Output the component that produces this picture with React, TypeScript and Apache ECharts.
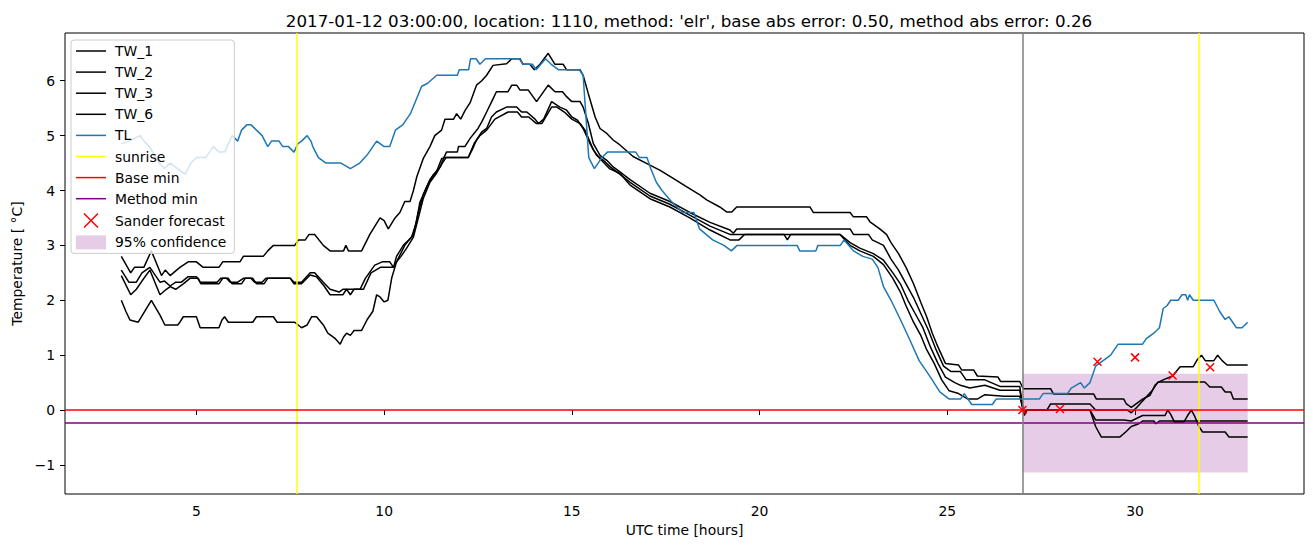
import React, { useEffect, useRef } from 'react';
import * as echarts from 'echarts';

const TITLE = "2017-01-12 03:00:00, location: 1110, method: 'elr', base abs error: 0.50, method abs error: 0.26";

const TW_1: [number, number][] = [
  [3.0,2.8],[3.25,2.5],[3.35,2.6],[3.6,2.6],[3.8,2.9],[4.07,2.45],[4.17,2.55],[4.3,2.45],[4.56,2.6],[4.78,2.7],[5.0,2.7],[5.18,2.6],[5.6,2.6],[5.7,2.7],[6.16,2.7],[6.25,2.8],[6.78,2.8],[6.9,2.9],[7.05,3.0],[7.62,3.0],[7.72,3.1],[7.9,3.1],[8.0,3.2],[8.15,3.2],[8.38,3.0],[8.56,2.9],[8.92,2.9],[8.98,3.0],[9.05,2.9],[9.4,2.9],[9.62,3.2],[9.89,3.5],[10.0,3.45],[10.11,3.3],[10.29,3.5],[10.42,3.6],[10.55,3.8],[10.69,3.8],[10.78,4.0],[10.87,4.25],[11.04,4.58],[11.22,4.8],[11.35,5.0],[11.53,5.1],[11.62,5.3],[11.85,5.3],[11.93,5.4],[12.04,5.3],[12.15,5.45],[12.29,5.6],[12.46,5.92],[12.6,6.0],[12.73,6.1],[12.9,6.28],[13.26,6.31],[13.4,6.4],[13.62,6.4],[13.7,6.3],[13.88,6.3],[14.0,6.2],[14.15,6.3],[14.37,6.5],[14.55,6.3],[14.77,6.3],[14.86,6.2],[15.22,6.2],[15.3,6.1],[15.44,5.76],[15.62,5.34],[15.75,5.13],[15.93,5.04],[16.1,4.92],[16.28,4.83],[16.63,4.62],[17.0,4.49],[17.34,4.37],[17.7,4.22],[18.05,4.07],[18.41,3.92],[18.59,3.83],[18.94,3.7],[19.12,3.61],[19.26,3.61],[19.39,3.7],[21.34,3.7],[21.43,3.6],[22.41,3.6],[22.5,3.52],[22.85,3.52],[22.94,3.43],[23.2,3.3],[23.38,3.2],[23.5,3.05],[23.7,2.85],[23.9,2.6],[24.1,2.3],[24.3,1.95],[24.45,1.7],[24.6,1.4],[24.75,1.15],[24.95,0.85],[25.3,0.82],[25.38,0.73],[25.7,0.73],[25.8,0.62],[26.35,0.6],[26.42,0.52],[26.93,0.52],[27.02,0.39],[27.75,0.39],[27.83,0.29],[28.9,0.29],[28.97,0.2],[29.7,0.2],[29.77,0.11],[29.9,0.05],[30.0,0.1],[30.2,0.2],[30.4,0.27],[30.53,0.45],[30.62,0.51],[31.86,0.51],[31.99,0.42],[32.3,0.42],[32.4,0.33],[32.55,0.33],[32.62,0.2],[33.0,0.2]
];

const TW_2: [number, number][] = [
  [3.0,2.55],[3.2,2.33],[3.4,2.33],[3.55,2.5],[3.76,2.6],[4.03,2.33],[4.15,2.35],[4.3,2.26],[4.45,2.33],[4.6,2.33],[4.78,2.43],[5.0,2.43],[5.1,2.33],[5.55,2.33],[5.65,2.4],[5.8,2.4],[5.9,2.33],[6.1,2.33],[6.25,2.4],[6.45,2.4],[6.55,2.33],[6.75,2.33],[6.85,2.4],[7.5,2.4],[7.6,2.33],[7.8,2.33],[8.03,2.5],[8.15,2.5],[8.38,2.33],[8.56,2.2],[8.8,2.15],[8.9,2.2],[9.36,2.2],[9.5,2.4],[9.75,2.64],[9.95,2.7],[10.15,2.7],[10.25,2.6],[10.33,2.8],[10.51,3.0],[10.73,3.15],[10.85,3.4],[10.95,3.78],[11.13,4.06],[11.3,4.28],[11.49,4.43],[11.58,4.58],[11.66,4.7],[11.95,4.7],[11.98,4.8],[12.15,4.8],[12.29,4.95],[12.5,5.13],[12.6,5.25],[12.73,5.43],[12.9,5.67],[12.99,5.8],[13.3,5.8],[13.4,5.92],[13.53,5.92],[13.62,5.83],[13.84,5.83],[14.06,5.62],[14.37,5.92],[14.55,5.8],[14.75,5.8],[14.86,5.71],[15.0,5.62],[15.22,5.62],[15.3,5.52],[15.44,5.22],[15.57,4.86],[15.75,4.64],[15.93,4.55],[16.1,4.43],[16.28,4.34],[16.55,4.2],[17.08,3.95],[17.61,3.8],[18.14,3.6],[18.68,3.42],[19.21,3.28],[19.3,3.22],[19.39,3.3],[22.41,3.3],[22.5,3.2],[22.9,3.2],[23.0,3.1],[23.3,3.0],[23.5,2.75],[23.7,2.55],[23.9,2.3],[24.1,2.05],[24.3,1.75],[24.5,1.45],[24.7,1.1],[24.9,0.8],[25.1,0.7],[25.35,0.7],[25.5,0.55],[26.0,0.55],[26.4,0.43],[26.93,0.43],[27.03,-0.05],[27.1,0.0],[27.65,0.0],[27.75,0.11],[28.8,0.11],[28.95,0.0],[29.8,0.0],[29.9,-0.05],[30.05,0.05],[30.25,0.2],[30.45,0.35],[30.6,0.5],[30.75,0.55],[31.0,0.62],[31.2,0.79],[31.55,0.79],[31.65,0.91],[31.77,1.0],[31.87,0.9],[32.1,0.9],[32.2,1.0],[32.32,0.9],[32.45,0.82],[33.0,0.82]
];

const TW_3: [number, number][] = [
  [3.0,2.45],[3.25,2.1],[3.4,2.2],[3.55,2.35],[3.76,2.55],[4.03,2.1],[4.2,2.2],[4.3,2.25],[4.45,2.2],[4.65,2.3],[4.83,2.4],[5.05,2.4],[5.12,2.3],[5.6,2.3],[5.7,2.4],[5.85,2.4],[5.95,2.3],[6.2,2.3],[6.3,2.4],[6.5,2.4],[6.6,2.3],[6.8,2.3],[6.9,2.4],[7.5,2.4],[7.6,2.3],[7.8,2.3],[8.03,2.46],[8.2,2.43],[8.4,2.26],[8.56,2.1],[8.9,2.1],[9.0,2.2],[9.1,2.1],[9.2,2.2],[9.45,2.2],[9.65,2.5],[9.9,2.6],[10.25,2.6],[10.33,2.7],[10.55,3.0],[10.78,3.2],[10.91,3.6],[11.04,3.92],[11.22,4.2],[11.4,4.35],[11.53,4.58],[11.6,4.6],[12.24,4.6],[12.35,4.75],[12.46,4.92],[12.6,5.07],[12.73,5.13],[12.86,5.34],[12.99,5.43],[13.26,5.52],[13.53,5.52],[13.66,5.43],[13.8,5.43],[14.02,5.3],[14.11,5.22],[14.25,5.3],[14.46,5.62],[14.68,5.52],[14.85,5.47],[15.0,5.34],[15.15,5.28],[15.3,5.13],[15.48,4.86],[15.66,4.64],[15.84,4.55],[16.02,4.43],[16.2,4.34],[16.55,4.15],[17.08,3.9],[17.61,3.75],[18.14,3.55],[18.68,3.35],[19.21,3.2],[22.14,3.2],[22.41,3.05],[22.67,2.95],[23.03,2.85],[23.3,2.73],[23.55,2.5],[23.75,2.3],[23.95,2.0],[24.15,1.75],[24.35,1.5],[24.55,1.15],[24.75,0.85],[24.95,0.6],[25.2,0.5],[25.35,0.45],[25.6,0.4],[26.0,0.45],[26.4,0.36],[26.93,0.36],[27.05,-0.08],[27.12,0.0],[28.8,0.0],[28.95,-0.18],[29.7,-0.18],[29.9,-0.2],[30.2,-0.1],[30.8,-0.1],[30.87,0.0],[30.95,-0.08],[31.05,-0.22],[31.3,-0.22],[31.4,-0.1],[31.5,0.0],[31.58,-0.1],[31.7,-0.3],[31.8,-0.4],[32.4,-0.4],[32.5,-0.49],[33.0,-0.49]
];

const TW_6: [number, number][] = [
  [3.0,2.0],[3.12,1.8],[3.23,1.64],[3.45,1.6],[3.8,2.0],[4.03,1.73],[4.16,1.55],[4.5,1.55],[4.56,1.6],[4.65,1.7],[5.0,1.7],[5.1,1.5],[5.6,1.5],[5.68,1.64],[5.75,1.7],[5.85,1.6],[6.5,1.6],[6.6,1.7],[7.05,1.7],[7.15,1.6],[7.62,1.6],[7.8,1.5],[7.95,1.55],[8.07,1.7],[8.2,1.7],[8.38,1.55],[8.5,1.4],[8.7,1.3],[8.83,1.2],[8.92,1.33],[9.0,1.4],[9.1,1.36],[9.2,1.45],[9.4,1.45],[9.55,1.65],[9.7,1.8],[9.8,2.1],[9.89,2.06],[10.0,1.97],[10.1,2.0],[10.2,2.4],[10.33,2.7],[10.45,2.8],[10.6,2.95],[10.78,3.15],[10.91,3.5],[11.04,3.85],[11.22,4.15],[11.4,4.32],[11.55,4.5],[11.65,4.6],[12.24,4.6],[12.4,4.86],[12.55,5.0],[12.73,5.1],[12.95,5.3],[13.3,5.43],[13.55,5.43],[13.66,5.34],[13.85,5.34],[14.06,5.22],[14.2,5.22],[14.46,5.52],[14.6,5.52],[14.8,5.43],[15.0,5.3],[15.22,5.22],[15.35,5.1],[15.57,4.74],[15.75,4.58],[16.0,4.4],[16.28,4.31],[16.55,4.1],[17.08,3.85],[17.61,3.7],[18.14,3.5],[18.68,3.28],[19.21,3.1],[19.45,3.1],[19.6,3.2],[20.65,3.2],[20.74,3.1],[20.83,3.2],[22.14,3.2],[22.41,3.0],[22.67,2.9],[23.03,2.8],[23.3,2.65],[23.55,2.4],[23.75,2.15],[23.9,1.9],[24.1,1.6],[24.3,1.35],[24.45,1.1],[24.65,0.85],[24.85,0.55],[25.05,0.35],[25.3,0.3],[25.55,0.2],[25.8,0.2],[26.0,0.28],[26.5,0.25],[26.93,0.25],[27.05,-0.1],[27.12,0.0],[28.8,0.0],[28.95,-0.3],[29.1,-0.49],[29.6,-0.49],[29.75,-0.4],[29.9,-0.3],[30.1,-0.25],[30.2,-0.2],[30.5,-0.2],[30.55,-0.25],[30.65,-0.2],[33.0,-0.2]
];

const TL: [number, number][] = [
  [3.0,4.85],[3.2,4.9],[3.5,5.0],[3.6,4.9],[3.75,4.8],[4.0,4.5],[4.15,4.4],[4.3,4.5],[4.5,4.4],[4.7,4.3],[4.85,4.5],[5.0,4.6],[5.25,4.6],[5.45,4.8],[5.6,4.7],[5.75,4.7],[5.95,5.0],[6.1,4.9],[6.2,5.1],[6.35,5.2],[6.45,5.2],[6.6,5.1],[6.75,5.0],[6.9,4.8],[7.0,4.9],[7.2,4.9],[7.3,4.8],[7.45,4.8],[7.6,4.7],[7.7,4.85],[7.8,4.9],[7.95,5.0],[8.05,4.9],[8.1,4.8],[8.25,4.6],[8.45,4.5],[8.85,4.5],[9.1,4.4],[9.35,4.5],[9.55,4.65],[9.8,4.9],[10.0,4.8],[10.15,4.8],[10.3,5.1],[10.5,5.2],[10.7,5.4],[10.85,5.65],[11.0,5.9],[11.15,5.95],[11.4,6.1],[11.95,6.1],[12.0,6.2],[12.25,6.2],[12.3,6.4],[12.45,6.4],[12.55,6.3],[12.7,6.4],[13.6,6.4],[13.7,6.3],[13.95,6.3],[14.05,6.2],[14.3,6.4],[14.45,6.3],[14.65,6.2],[15.2,6.2],[15.3,6.1],[15.45,4.6],[15.6,4.4],[15.8,4.6],[15.95,4.7],[16.7,4.7],[16.8,4.6],[17.0,4.6],[17.1,4.4],[17.25,4.15],[17.4,4.0],[17.65,3.8],[17.95,3.6],[18.25,3.6],[18.4,3.3],[18.75,3.1],[19.05,3.0],[19.25,2.9],[19.4,3.0],[21.0,3.0],[21.07,2.9],[21.5,2.9],[21.55,3.0],[22.15,3.0],[22.25,3.1],[22.5,2.9],[22.75,2.8],[23.0,2.75],[23.15,2.6],[23.3,2.25],[23.5,2.0],[23.75,1.65],[24.0,1.28],[24.25,0.9],[24.55,0.6],[24.8,0.33],[25.05,0.2],[25.35,0.2],[25.45,0.3],[25.65,0.1],[26.2,0.1],[26.3,0.2],[27.45,0.2],[27.55,0.3],[28.2,0.3],[28.3,0.4],[28.55,0.5],[28.65,0.4],[28.8,0.5],[28.95,0.8],[29.15,0.9],[29.35,1.0],[29.55,1.2],[30.2,1.2],[30.3,1.3],[30.5,1.4],[30.65,1.5],[30.75,1.85],[30.85,1.9],[30.95,2.0],[31.15,2.0],[31.25,2.1],[31.35,2.1],[31.4,2.0],[31.45,2.1],[31.55,2.0],[32.1,2.0],[32.25,1.8],[32.4,1.65],[32.5,1.7],[32.6,1.6],[32.7,1.5],[32.85,1.5],[33.0,1.6]
];

const SUNRISE_HOURS = [7.68, 31.69];
const ANALYSIS_HOUR = 27;
const BASE_MIN = 0;
const METHOD_MIN = -0.23;
const SANDER_HOURS = [27, 28, 29, 30, 31, 32];
const SANDER_VALUES = [0.0, 0.02, 0.88, 0.96, 0.63, 0.78];
const CONF_HOURS = [27, 33];
const CONF_BOUNDS = [-1.14, 0.66];
const X_TICKS = [5, 10, 15, 20, 25, 30];
const Y_TICKS = [-1, 0, 1, 2, 3, 4, 5, 6];

const FONT = "'DejaVu Sans', sans-serif";
const X_MARK = 'path://M0,0L10,10M10,0L0,10';
const LINE_ICON = 'path://M0,0L30,0L30,1.5L0,1.5Z';
const CONF_COLOR = 'rgba(128,0,128,0.2)';

export default function App() {
  const ref = useRef<HTMLDivElement>(null);
  useEffect(() => {
    const chart = echarts.init(ref.current!, null, { renderer: 'svg' });
    const lineSeries = (name: string, data: [number, number][], color: string, z = 2) => ({
      type: 'line', name, data, symbol: 'none', showSymbol: false, silent: true, z,
      lineStyle: { color, width: 1.5 }, itemStyle: { color },
    });
    const vLine = (name: string, color: string, xs: number[]) => ({
      type: 'line', name, data: [], symbol: 'none', silent: true,
      lineStyle: { color, width: 1.5 }, itemStyle: { color },
      markLine: {
        silent: true, symbol: 'none', label: { show: false },
        lineStyle: { color, width: 1.5, type: 'solid' },
        emphasis: { disabled: true },
        data: xs.map((x) => ({ xAxis: x })),
      },
    });
    const hLine = (name: string, color: string, y: number) => ({
      type: 'line', name, data: [], symbol: 'none', silent: true,
      lineStyle: { color, width: 1.5 }, itemStyle: { color },
      markLine: {
        silent: true, symbol: 'none', label: { show: false },
        lineStyle: { color, width: 1.5, type: 'solid' },
        emphasis: { disabled: true },
        data: [{ yAxis: y }],
      },
    });
    const lineLegend = (name: string, color: string) => ({ name, icon: LINE_ICON, itemStyle: { color, borderWidth: 0 } });
    const tickStyle = { fontFamily: FONT, fontSize: 13.9, color: '#000' };
    const option = {
      animation: false,
      title: {
        text: TITLE, left: 684, top: 7, textAlign: 'center',
        textStyle: { fontFamily: FONT, fontSize: 16.7, fontWeight: 'normal', color: '#000' },
      },
      grid: { left: 65, right: 9, top: 33, bottom: 53, show: true, borderColor: '#000', borderWidth: 1, backgroundColor: 'transparent' },
      xAxis: {
        type: 'value', min: 1.5, max: 34.5,
        name: 'UTC time [hours]', nameLocation: 'middle', nameGap: 29,
        nameTextStyle: tickStyle,
        axisLine: { show: false },
        axisTick: { show: true, customValues: X_TICKS, length: 5, lineStyle: { color: '#000', width: 1 } },
        axisLabel: { customValues: X_TICKS, margin: 10, ...tickStyle },
        splitLine: { show: false },
      },
      yAxis: {
        type: 'value', min: -1.53, max: 6.87,
        name: 'Temperature [ °C]', nameLocation: 'middle', nameGap: 40, nameRotate: 90,
        nameTextStyle: tickStyle,
        axisLine: { show: false },
        axisTick: { show: true, customValues: Y_TICKS, length: 5, lineStyle: { color: '#000', width: 1 } },
        axisLabel: {
          customValues: Y_TICKS, margin: 10, ...tickStyle,
          formatter: (v: number) => (v < 0 ? '\u2212' + Math.abs(v) : String(v)),
        },
        splitLine: { show: false },
      },
      legend: {
        orient: 'vertical', left: 71, top: 40,
        padding: [4, 8, 4, 5],
        backgroundColor: 'rgba(255,255,255,0.8)', borderColor: '#cccccc', borderWidth: 1, borderRadius: 3,
        itemWidth: 30, itemHeight: 14, itemGap: 7.1,
        textStyle: { fontFamily: FONT, fontSize: 13.9, color: '#000', padding: [0, 0, 0, 4] },
        selectedMode: false,
        data: [
          lineLegend('TW_1', '#000000'),
          lineLegend('TW_2', '#000000'),
          lineLegend('TW_3', '#000000'),
          lineLegend('TW_6', '#000000'),
          lineLegend('TL', '#1f77b4'),
          lineLegend('sunrise', '#ffff00'),
          lineLegend('Base min', '#ff0000'),
          lineLegend('Method min', '#800080'),
          { name: 'Sander forecast', icon: X_MARK, itemStyle: { color: 'rgba(0,0,0,0)', borderColor: 'red', borderWidth: 1.5 } },
          { name: '95% confidence', icon: 'rect', itemStyle: { color: CONF_COLOR, borderWidth: 0 } },
        ],
        z: 10,
      },
      series: [
        lineSeries('TW_1', TW_1, '#000000'),
        lineSeries('TW_2', TW_2, '#000000'),
        lineSeries('TW_3', TW_3, '#000000'),
        lineSeries('TW_6', TW_6, '#000000'),
        lineSeries('TL', TL, '#1f77b4', 3),
        vLine('sunrise', '#ffff00', SUNRISE_HOURS),
        hLine('Base min', '#ff0000', BASE_MIN),
        hLine('Method min', '#800080', METHOD_MIN),
        vLine('analysis', '#808080', [ANALYSIS_HOUR]),
        {
          type: 'scatter', name: 'Sander forecast', silent: true, z: 5,
          symbol: X_MARK, symbolSize: 8,
          itemStyle: { color: 'rgba(0,0,0,0)', borderColor: '#ff0000', borderWidth: 1.5, opacity: 1 },
          data: SANDER_HOURS.map((h, i) => [h, SANDER_VALUES[i]]),
        },
        {
          type: 'line', name: '95% confidence', data: [], symbol: 'none', silent: true,
          lineStyle: { color: CONF_COLOR }, itemStyle: { color: CONF_COLOR },
          markArea: {
            silent: true, label: { show: false },
            itemStyle: { color: CONF_COLOR },
            data: [[{ xAxis: CONF_HOURS[0], yAxis: CONF_BOUNDS[0] }, { xAxis: CONF_HOURS[1], yAxis: CONF_BOUNDS[1] }]],
          },
        },
      ],
    };
    chart.setOption(option as any);
    return () => chart.dispose();
  }, []);
  return <div ref={ref} style={{ position: 'absolute', left: 0, top: 0, width: 1313, height: 547 }} />;
}
